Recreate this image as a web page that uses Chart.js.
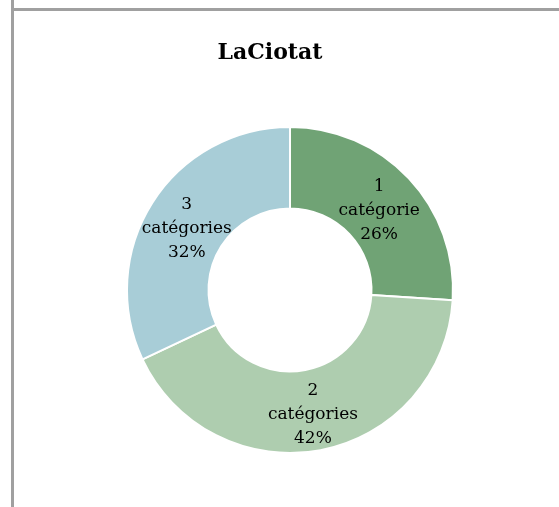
<!DOCTYPE html>
<html>
<head>
<meta charset="utf-8">
<script src="https://cdn.jsdelivr.net/npm/chart.js@4"></script>
<style>
  body { margin: 0; background: #fff; }
  .wrap { position: relative; width: 559px; height: 507px; overflow: hidden; }
  .vline { position: absolute; left: 11px; top: 0; width: 3px; height: 507px; background: #a0a0a0; }
  .hline { position: absolute; left: 11px; top: 8px; width: 548px; height: 3px; background: #a0a0a0; }
  canvas { position: absolute; left: 0; top: 0; }
</style>
</head>
<body>
<div class="wrap">
  <canvas id="chart" width="559" height="507"></canvas>
  <div class="vline"></div>
  <div class="hline"></div>
</div>
<script>
const chartTitle = 'LaCiotat';
const labels = ['1 catégorie', '2 catégories', '3 catégories'];
const values = [26, 42, 32];
const colors = ['#70a375', '#aecdaf', '#a8cdd7'];

// labels inside the slices: name on two lines, then the percentage
const sliceLabels = {
    id: 'sliceLabels',
    afterDatasetsDraw(chart) {
        const ctx = chart.ctx;
        const meta = chart.getDatasetMeta(0);
        const total = values.reduce((a, b) => a + b, 0);
        ctx.save();
        ctx.font = '17px "DejaVu Serif"';
        ctx.fillStyle = '#000';
        ctx.textAlign = 'center';
        ctx.textBaseline = 'middle';
        meta.data.forEach((arc, i) => {
            const pos = arc.tooltipPosition();
            const parts = labels[i].split(' ');
            const lines = [parts[0], parts[1], Math.round(values[i] / total * 100) + '%'];
            lines.forEach((t, j) => {
                ctx.fillText(t, pos.x, pos.y + 4 + (j - 1) * 24);
            });
        });
        ctx.restore();
    }
};

// title drawn a bit left of the doughnut centre, like the original
const titlePlugin = {
    id: 'titlePlugin',
    afterDraw(chart) {
        const ctx = chart.ctx;
        ctx.save();
        ctx.font = 'bold 22px "DejaVu Serif"';
        ctx.fillStyle = '#000';
        ctx.textAlign = 'center';
        ctx.textBaseline = 'middle';
        ctx.fillText(chartTitle, 270, 53);
        ctx.restore();
    }
};

const ctx = document.getElementById('chart').getContext('2d');
const chart = new Chart(ctx, {
    type: 'doughnut',
    data: {
        labels: labels,
        datasets: [{
            data: values,
            backgroundColor: colors,
            borderColor: '#ffffff',
            borderWidth: 2
        }]
    },
    options: {
        responsive: false,
        animation: false,
        cutout: '50%',
        layout: {
            padding: { top: 126, bottom: 53, left: 126, right: 105 }
        },
        plugins: {
            legend: { display: false },
            tooltip: { enabled: false },
            title: { display: false }
        }
    },
    plugins: [sliceLabels, titlePlugin]
});
</script>
</body>
</html>
